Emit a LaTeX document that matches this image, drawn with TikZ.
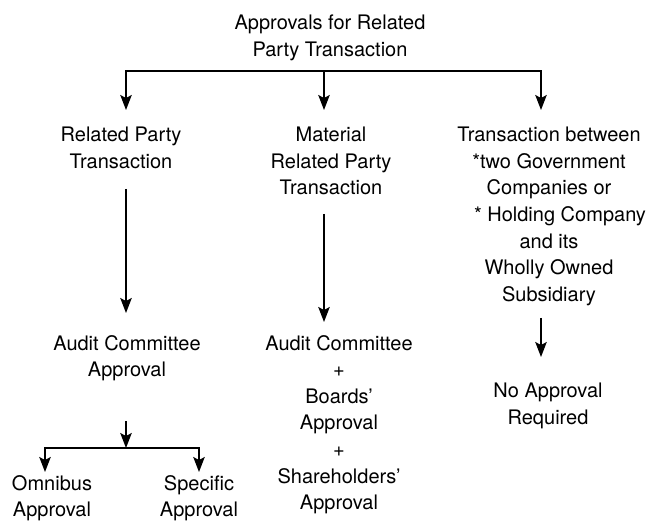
\documentclass[tikz,border=0pt]{standalone}
\usepackage{fontspec}
\setmainfont{TeX Gyre Heros}
\usetikzlibrary{arrows.meta}

\tikzset{
	lbl/.style={anchor=north, inner sep=0pt, align=center, font=\fontsize{20}{26.6}\selectfont},
	arr/.style={line width=1.3pt, -{Stealth[length=15pt,width=11.5pt,inset=3pt]}},
}

\begin{document}
\begin{tikzpicture}[x=1pt, y=-1pt]
	\useasboundingbox (0,0) rectangle (648,521);

	\node[lbl] (title) at (330,15) {Approvals for Related\\Party Transaction};

	\node[lbl] (rpt)  at (121,127) {Related Party\\Transaction};
	\node[lbl] (mrpt) at (331,127) {Material\\Related Party\\Transaction};
	\node[lbl] (tbg)  at (549,127) {Transaction between\\*two Government\\Companies or\\\hspace*{22pt}* Holding Company\\and its\\Wholly Owned\\Subsidiary};

	\node[lbl] (acl) at (127,335) {Audit Committee\\Approval};
	\node[lbl] (acm) at (339,335) {Audit Committee\\+\\Boards'\\Approval\\+\\Shareholders'\\Approval};
	\node[lbl] (nar) at (548,383) {No Approval\\Required};

	\node[lbl] (omni) at (52,475)  {Omnibus\\Approval};
	\node[lbl] (spec) at (199,475) {Specific\\Approval};

	\coordinate (fork)  at (324,71);
	\coordinate (split) at (126,448);

	\draw[arr, shorten >=17pt] (fork) -| ([xshift=5pt]rpt.north);
	\draw[arr, shorten >=17pt] (fork) -- (fork |- mrpt.north);
	\draw[arr, shorten >=17pt] (fork) -| ([xshift=-8pt]tbg.north);

	\draw[arr, shorten <=20pt, shorten >=22pt] ([xshift=5pt]rpt.south) -- ([xshift=-1pt]acl.north);
	\draw[arr, shorten <=18.5pt, shorten >=13pt] ([xshift=-7pt]mrpt.south) -- ([xshift=-15pt]acm.north);
	\draw[arr, shorten <=12pt, shorten >=26pt] ([xshift=-8pt]tbg.south) -- ([xshift=-7pt]nar.north);

	\draw[arr, shorten <=40pt] ([xshift=-1pt]acl.south) -- (split);
	\draw[arr, shorten >=3pt] (split) -| ([xshift=-7pt]omni.north);
	\draw[arr, shorten >=3pt] (split) -| (spec.north);
\end{tikzpicture}
\end{document}
